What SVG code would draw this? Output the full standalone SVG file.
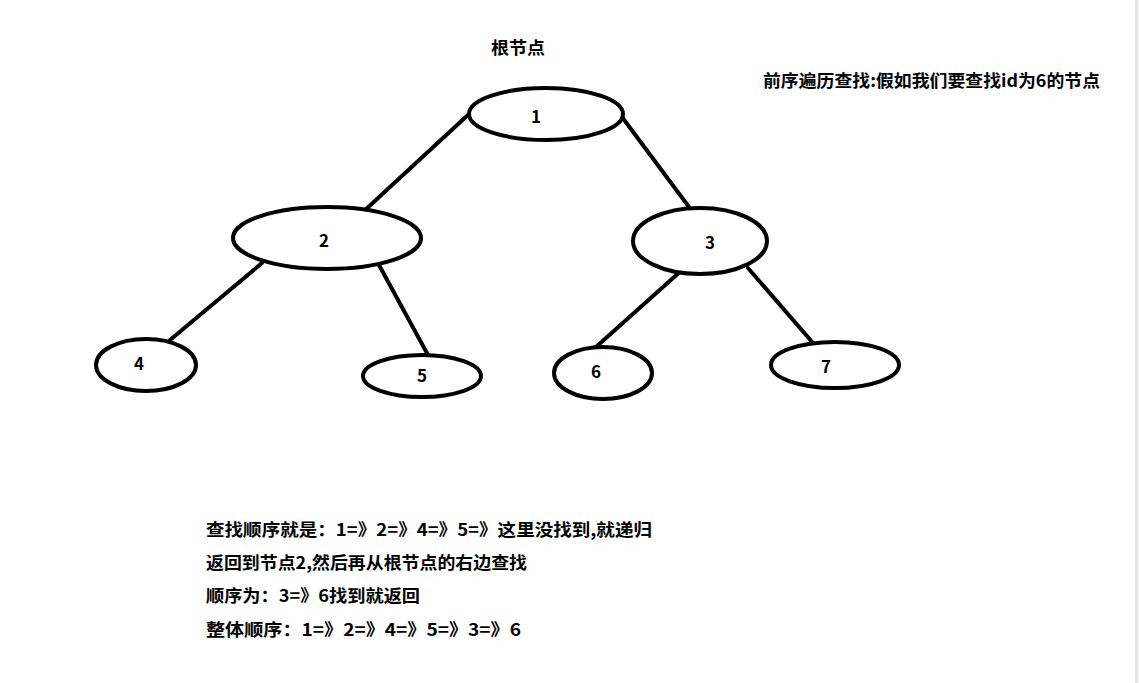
<svg xmlns="http://www.w3.org/2000/svg" width="1139" height="683" viewBox="0 0 1139 683">
<style>
.n{fill:#fff;stroke:#000;stroke-width:4}
.e{stroke:#000;stroke-width:4;stroke-linecap:round;fill:none}
text{font-family:"Noto Sans CJK SC","Noto Sans",sans-serif;font-weight:bold;fill:#000}
.l{font-size:17px;text-anchor:middle}
.t{font-size:17px}
</style>
<rect width="1139" height="683" fill="#fff"/>
<rect x="1135" y="0" width="3" height="683" fill="#e6e6e6"/>
<g id="connectors">
<line class="e" x1="469" y1="114" x2="364" y2="211"/>
<line class="e" x1="622" y1="117" x2="689" y2="207"/>
<line class="e" x1="262" y1="263" x2="170" y2="340"/>
<line class="e" x1="379" y1="265" x2="428" y2="355"/>
<line class="e" x1="682" y1="270" x2="596" y2="347"/>
<line class="e" x1="748" y1="268" x2="813" y2="343"/>
</g>
<g id="node1"><ellipse class="n" cx="546" cy="114" rx="77" ry="26"/><text class="l" x="536" y="123">1</text></g>
<g id="node2"><ellipse class="n" cx="327" cy="238" rx="94" ry="31"/><text class="l" x="324" y="247">2</text></g>
<g id="node3"><ellipse class="n" cx="700" cy="241" rx="67" ry="33"/><text class="l" x="710" y="249">3</text></g>
<g id="node4"><ellipse class="n" cx="146" cy="365" rx="50" ry="26"/><text class="l" x="139" y="370">4</text></g>
<g id="node5"><ellipse class="n" cx="422" cy="376" rx="59" ry="21"/><text class="l" x="422" y="382">5</text></g>
<g id="node6"><ellipse class="n" cx="603" cy="373" rx="49" ry="26"/><text class="l" x="596" y="378">6</text></g>
<g id="node7"><ellipse class="n" cx="835" cy="365" rx="64" ry="23"/><text class="l" x="826" y="373">7</text></g>
<text class="t" x="491" y="54" textLength="54" lengthAdjust="spacingAndGlyphs">根节点</text>
<text class="t" x="763" y="87" textLength="337" lengthAdjust="spacingAndGlyphs">前序遍历查找:假如我们要查找id为6的节点</text>
<text class="t" x="206" y="536" textLength="446" lengthAdjust="spacingAndGlyphs">查找顺序就是：1=》2=》4=》5=》这里没找到,就递归</text>
<text class="t" x="206" y="569" textLength="321" lengthAdjust="spacingAndGlyphs">返回到节点2,然后再从根节点的右边查找</text>
<text class="t" x="206" y="602" textLength="214" lengthAdjust="spacingAndGlyphs">顺序为：3=》6找到就返回</text>
<text class="t" x="206" y="636" textLength="315" lengthAdjust="spacingAndGlyphs">整体顺序：1=》2=》4=》5=》3=》6</text>
</svg>
